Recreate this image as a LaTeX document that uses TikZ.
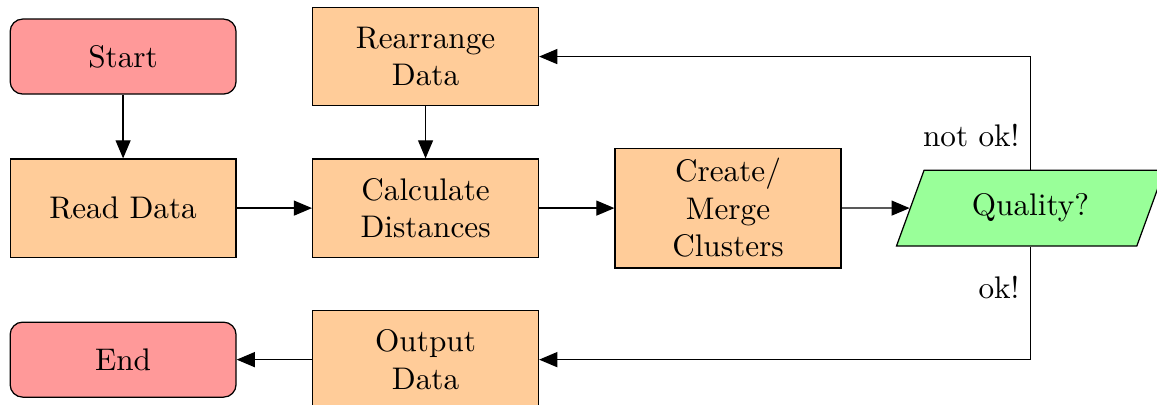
\documentclass[tikz,border=0pt]{standalone}
\usepackage{tikz}
\usetikzlibrary{arrows.meta,positioning,shapes.geometric}

\begin{document}
\begin{tikzpicture}[
  node distance=48.5pt and 96.8pt, on grid,
  startstop/.style={draw, rounded corners=4pt, align=center, minimum width=72.3pt, minimum height=24pt, fill=red!40},
  process/.style={draw, align=center, minimum width=72.3pt, minimum height=31.4pt, fill=orange!40},
  io/.style={draw, trapezium, trapezium left angle=70, trapezium right angle=110, align=center, minimum width=85.4pt, minimum height=24.3pt, fill=green!40},
  flow/.style={-{Triangle[length=5.8pt, width=4.8pt]}}
]
\useasboundingbox (-39.4pt,-111.5pt) rectangle (330.9pt,18.1pt);
\node[startstop] (start) {Start};
\node[process, below=of start] (read) {Read Data};
\node[process, right=of read] (calc) {Calculate\\Distances};
\node[process, above=of calc] (rearrange) {Rearrange\\Data};
\node[process, right=of calc] (merge) {Create/\\Merge\\Clusters};
\node[io, right=of merge] (quality) {Quality?};
\node[process, below=of calc] (output) {Output\\Data};
\node[startstop, below=of read] (end) {End};
\draw[flow] (start) -- (read);
\draw[flow] (read) -- (calc);
\draw[flow] (rearrange) -- (calc);
\draw[flow] (calc) -- (merge);
\draw[flow] (merge) -- (quality);
\draw[flow] (quality.north) |- node[left, pos=0.15] (notok) {not ok!} (rearrange.east);
\draw[flow] (quality.south) |- node[left, pos=0.18] (ok) {ok!} (output.east);
\draw[flow] (output) -- (end);
\end{tikzpicture}
\end{document}
